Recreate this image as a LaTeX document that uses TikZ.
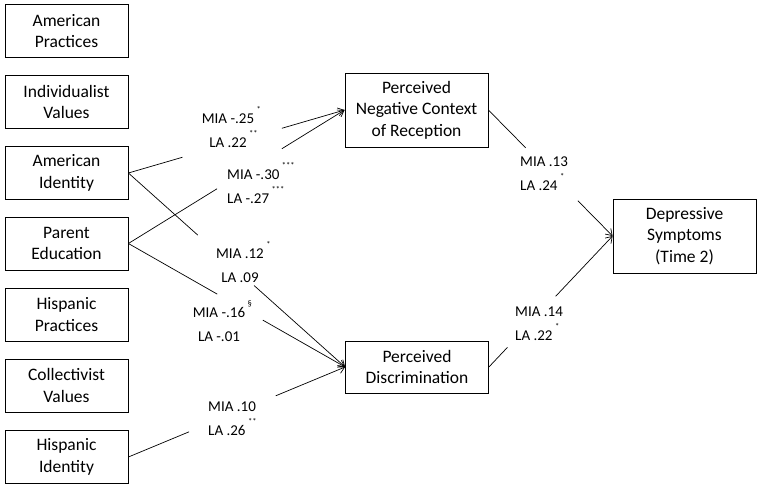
\documentclass[tikz,border=0pt]{standalone}
\usepackage{fontspec}
\setmainfont{Carlito}
\usetikzlibrary{positioning}
\usetikzlibrary{arrows.meta}
\tikzset{
    varbox/.style = {rectangle, draw=black, line width=0.8pt, align=center, inner sep=2pt, font=\fontsize{17.5}{21.5}\selectfont},
    leftbox/.style = {varbox, minimum width=123pt, minimum height=53pt},
    midbox/.style = {varbox, minimum width=143pt},
    coef/.style = {inner sep=0pt, font=\fontsize{15}{24}\selectfont},
    edgep/.style = {line width=0.7pt},
    edgea/.style = {-{Straight Barb[length=6pt,width=8pt]},line width=0.7pt}
}
% significance marks, raised and of no width
\newcommand{\sigm}[1]{\rlap{\,\raisebox{11pt}[0pt][0pt]{\fontsize{8.5}{8.5}\selectfont #1}}}

\begin{document}
\begin{tikzpicture}[x=1pt,y=-1pt]
\useasboundingbox (0,0) rectangle (762,489);

\node[leftbox] at (66.5, 31.0) (amprac)  {American\\Practices};
\node[leftbox] at (66.5,102.0) (indval)  {Individualist\\Values};
\node[leftbox] at (66.5,173.0) (amid)    {American\\Identity};
\node[leftbox] at (66.5,243.5) (pared)   {Parent\\Education};
\node[leftbox] at (66.5,314.5) (hisprac) {Hispanic\\Practices};
\node[leftbox] at (66.5,385.5) (colval)  {Collectivist\\Values};
\node[leftbox] at (66.5,457.0) (hisid)   {Hispanic\\Identity};

\node[midbox, minimum height=74pt] at (416.5,110.0) (negcr) {Perceived\\Negative Context\\of Reception};
\node[midbox, minimum height=52pt] at (417.0,367.0) (disc)  {Perceived\\Discrimination};
\node[midbox, minimum height=74pt] at (684.5,236.0) (dep)   {Depressive\\Symptoms\\(Time 2)};

% coefficients
\node[coef, align=center, anchor=north]      at (228,114) (c1) {MIA -.25\sigm{*}\\LA .22\sigm{**}};
\node[coef, align=left,   anchor=north west] at (227,170) (c2) {MIA -.30\sigm{***}\\LA -.27\sigm{***}};
\node[coef, align=center, anchor=north]      at (240,249) (c3) {MIA .12\sigm{*}\\LA .09};
\node[coef, align=center, anchor=north]      at (219,307) (c4) {MIA -.16\sigm{\S}\\LA -.01};
\node[coef, align=left,   anchor=north west] at (208,402) (c5) {MIA .10\\LA .26\sigm{**}};
\node[coef, align=left,   anchor=north west] at (520,157) (c6) {MIA .13\\LA .24\sigm{*}};
\node[coef, align=left,   anchor=north west] at (515,307) (c7) {MIA .14\\LA .22\sigm{*}};

% paths, broken where the coefficients sit
\path (amid.east) -- coordinate[pos=0.25] (an1) coordinate[pos=0.71] (an2) (negcr.west);
\draw[edgep] (amid.east) -- (an1);
\draw[edgea] (an2) -- (negcr.west);

\path (pared.east) -- coordinate[pos=0.41] (pn1) coordinate[pos=0.71] (pn2) (negcr.west);
\draw[edgep] (pared.east) -- (pn1);
\draw[edgea] (pn2) -- (negcr.west);

\path (amid.east) -- coordinate[pos=0.32] (ad1) coordinate[pos=0.58] (ad2) (disc.west);
\draw[edgep] (amid.east) -- (ad1);
\draw[edgea] (ad2) -- (disc.west);

\path (pared.east) -- coordinate[pos=0.41] (pd1) coordinate[pos=0.62] (pd2) (disc.west);
\draw[edgep] (pared.east) -- (pd1);
\draw[edgea] (pd2) -- (disc.west);

\path (hisid.east) -- coordinate[pos=0.28] (hd1) coordinate[pos=0.68] (hd2) (disc.west);
\draw[edgep] (hisid.east) -- (hd1);
\draw[edgea] (hd2) -- (disc.west);

\path (negcr.east) -- coordinate[pos=0.30] (nd1) coordinate[pos=0.72] (nd2) (dep.west);
\draw[edgep] (negcr.east) -- (nd1);
\draw[edgea] (nd2) -- (dep.west);

\path (disc.east) -- coordinate[pos=0.15] (dd1) coordinate[pos=0.54] (dd2) (dep.west);
\draw[edgep] (disc.east) -- (dd1);
\draw[edgea] (dd2) -- (dep.west);

\end{tikzpicture}
\end{document}
